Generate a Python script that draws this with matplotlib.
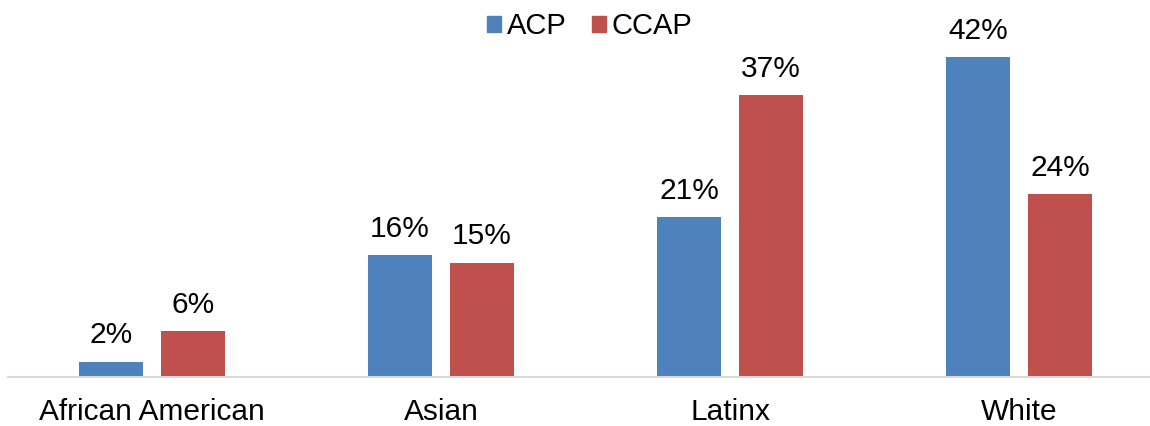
import numpy as np
import matplotlib.pyplot as plt
from matplotlib.patches import Patch

plt.rcParams["font.family"] = ["Liberation Sans", "DejaVu Sans"]

categories = ["African American", "Asian", "Latinx", "White"]
acp = [2, 16, 21, 42]
ccap = [6, 15, 37, 24]
series_names = ["ACP", "CCAP"]
colors = ["#4F81BD", "#C0504D"]

fig = plt.figure(figsize=(11.5, 4.26), dpi=100)
ax = fig.add_axes([7.5 / 1150, 49 / 426, 1142.5 / 1150, 377 / 426])

x = np.arange(len(categories))
width = 0.2215
offset = 0.1419

for vals, off, col in [(acp, -offset, colors[0]), (ccap, offset, colors[1])]:
    bars = ax.bar(x + off, vals, width, color=col)
    for b, v in zip(bars, vals):
        ax.annotate(f"{v}%", (b.get_x() + b.get_width() / 2, v),
                    xytext=(0, 9), textcoords="offset points",
                    ha="center", va="bottom", fontsize=21.5)

ax.set_xlim(-0.5, 3.453)
ax.set_ylim(0, 49.5)
ax.set_xticks(x)
ax.set_xticklabels(categories, fontsize=21.5)
ax.tick_params(axis="x", length=0, pad=15)
ax.set_yticks([])
for side in ["top", "right", "left"]:
    ax.spines[side].set_visible(False)
ax.spines["bottom"].set_color("#d9d9d9")
ax.spines["bottom"].set_linewidth(1.5)
ax.patch.set_visible(False)

handles = [Patch(color=c, label=n) for c, n in zip(colors, series_names)]
fig.legend(handles=handles, loc="center", bbox_to_anchor=(590 / 1150, 1 - 26 / 426),
           ncol=2, frameon=False, fontsize=21, handlelength=0.48, handleheight=0.48,
           handletextpad=0.2, columnspacing=0.86, borderpad=0)

fig.savefig("out.png", dpi=100)
